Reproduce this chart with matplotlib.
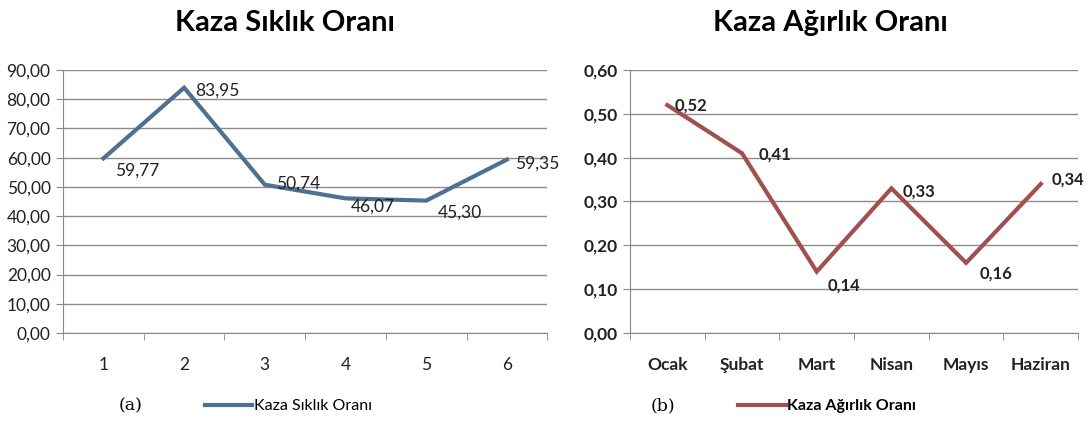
import numpy as np
import matplotlib
matplotlib.use("Agg")
from matplotlib import pyplot as plt
from matplotlib.lines import Line2D

# data
siklik_x = ["1", "2", "3", "4", "5", "6"]
siklik = [59.77, 83.95, 50.74, 46.07, 45.30, 59.35]
agirlik_x = ["Ocak", "Şubat", "Mart", "Nisan", "Mayıs", "Haziran"]
agirlik = [0.52, 0.41, 0.14, 0.33, 0.16, 0.34]

plt.rcParams['font.family'] = ['Lato', 'DejaVu Sans']

fig = plt.figure(figsize=(10.88, 4.23), dpi=100)
ax1 = fig.add_axes([0.058, 0.2128, 0.445, 0.6217])
ax2 = fig.add_axes([0.579, 0.2128, 0.412, 0.6217])


def fmt(v):
    return f"{v:.2f}".replace(".", ",")


def style(ax, labels, yticks, bold):
    w = 'bold' if bold else 'normal'
    n = len(labels)
    ax.set_xlim(-0.5, n - 0.5)
    ax.set_ylim(yticks[0], yticks[-1])
    ax.set_yticks(yticks)
    ax.set_yticklabels([fmt(t) for t in yticks], fontsize=12.5, fontweight=w, color='#222222')
    ax.set_xticks(range(n))
    ax.set_xticklabels(labels, fontsize=12.5, fontweight=w, color='#222222')
    ax.set_xticks(np.arange(-0.5, n, 1.0), minor=True)
    ax.tick_params(axis='x', which='major', length=0, pad=17)
    ax.tick_params(axis='x', which='minor', length=5, direction='out', color='#888888')
    ax.tick_params(axis='y', length=5, direction='out', color='#888888', pad=4)
    ax.grid(axis='y', color='#8c8c8c', linewidth=1.0)
    ax.set_axisbelow(True)
    for s in ['top', 'right']:
        ax.spines[s].set_visible(False)
    for s in ['left', 'bottom']:
        ax.spines[s].set_color('#888888')


style(ax1, siklik_x, np.arange(0, 91, 10), False)
style(ax2, agirlik_x, np.round(np.arange(0, 0.61, 0.1), 2), True)

blue = '#4f7191'
red = '#a0504f'
ax1.plot(range(6), siklik, color=blue, linewidth=3, solid_joinstyle='miter')
ax2.plot(range(6), agirlik, color=red, linewidth=3, solid_joinstyle='miter')

off1 = [(8, -9), (8, -2), (8, 1), (4, -6), (8, -9), (6, -3)]
for i, v in enumerate(siklik):
    ax1.annotate(fmt(v), (i, v), xytext=off1[i], textcoords='offset points',
                 fontsize=12.5, color='#222222', va='center', ha='left')

off2 = [(5, 0), (12, -1), (8, -10), (8, -2), (10, -8), (8, 3)]
for i, v in enumerate(agirlik):
    ax2.annotate(fmt(v), (i, v), xytext=off2[i], textcoords='offset points',
                 fontsize=12, fontweight='bold', color='#222222', va='center', ha='left')

fig.text(0.262, 0.945, "Kaza Sıklık Oranı", ha='center', va='center',
         fontsize=21, fontweight='bold')
fig.text(0.763, 0.945, "Kaza Ağırlık Oranı", ha='center', va='center',
         fontsize=21, fontweight='bold')

fig.text(0.12, 0.04, "(a)", ha='center', va='center', fontsize=12.5,
         family=['DejaVu Serif'])
fig.text(0.609, 0.04, "(b)", ha='center', va='center', fontsize=12.5,
         family=['DejaVu Serif'])

fig.legend([Line2D([], [], color=blue, linewidth=3)], ["Kaza Sıklık Oranı"],
           loc='center', bbox_to_anchor=(0.265, 0.04), frameon=False,
           fontsize=11.5, handlelength=3, handletextpad=0.1)
fig.legend([Line2D([], [], color=red, linewidth=3)], ["Kaza Ağırlık Oranı"],
           loc='center', bbox_to_anchor=(0.76, 0.04), frameon=False,
           prop={'size': 11.5, 'weight': 'bold'}, handlelength=3, handletextpad=0.1)

fig.savefig("out.png", dpi=100)
